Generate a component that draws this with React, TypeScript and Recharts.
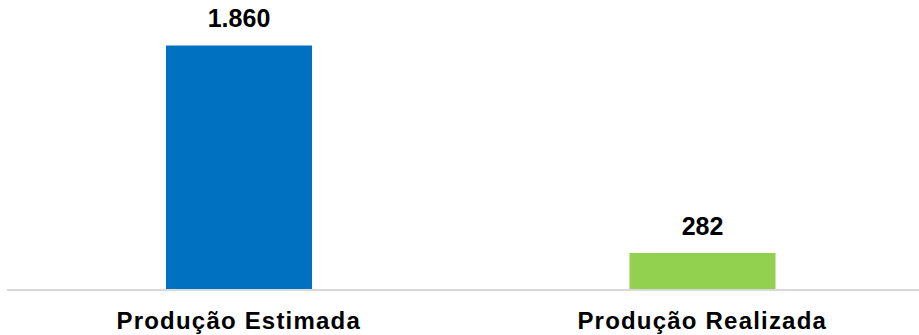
import React from "react";
import { BarChart, Bar, XAxis, YAxis, Cell, LabelList } from "recharts";

const categories = ["Produção Estimada", "Produção Realizada"];
const values = [1860, 282];
const colors = ["#0070C0", "#92D050"];

const data = categories.map((name, i) => ({ name, value: values[i] }));

const fmt = (v: number) => {
  const s = String(Math.round(v));
  return s.replace(/\B(?=(\d{3})+(?!\d))/g, ".");
};

export default function App() {
  return (
    <div
      style={{
        position: "absolute",
        left: 0,
        top: 0,
        width: 919,
        height: 335,
        overflow: "hidden",
        background: "#fff",
      }}
    >
      <BarChart
        width={934}
        height={335}
        data={data}
        margin={{ top: 27, right: 0, left: 7, bottom: 0 }}
      >
        <YAxis hide domain={[0, 2000]} />
        <XAxis
          dataKey="name"
          height={45}
          axisLine={{ stroke: "#D9D9D9", strokeWidth: 2 }}
          tickLine={false}
          tickSize={0}
          tickMargin={22}
          interval={0}
          tick={{
            fill: "#000",
            fontSize: 24,
            fontWeight: "bold",
            fontFamily: "Liberation Sans, Arial, sans-serif",
            letterSpacing: 1.2,
          }}
        />
        <Bar dataKey="value" barSize={146} isAnimationActive={false}>
          {data.map((d, i) => (
            <Cell key={d.name} fill={colors[i]} />
          ))}
          <LabelList
            dataKey="value"
            position="top"
            offset={18}
            formatter={(v: any) => fmt(Number(v))}
            style={{
              fill: "#000",
              fontSize: 25,
              fontWeight: "bold",
              fontFamily: "Liberation Sans, Arial, sans-serif",
            }}
          />
        </Bar>
      </BarChart>
    </div>
  );
}
